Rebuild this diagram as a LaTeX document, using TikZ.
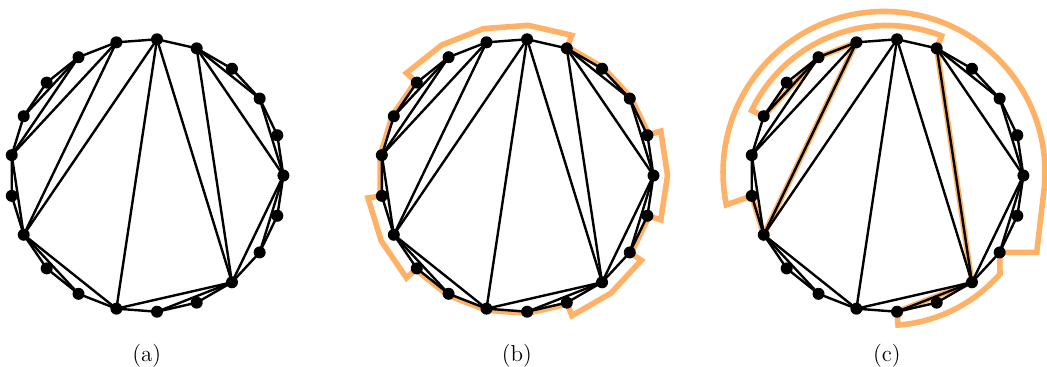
\documentclass[tikz,border=0pt]{standalone}
\pgfdeclarelayer{bg}
\pgfsetlayers{bg,main}
\definecolor{hl}{RGB}{255,178,102}
\tikzset{
  edge/.style={line width=1.2pt, draw=black},
  vdot/.style={circle, fill=black, inner sep=0pt, minimum size=6pt},
  hlpath/.style={line width=2.8pt, draw=hl},
  caption/.style={font=\fontsize{11.5}{13}\selectfont, anchor=base}
}
\newcommand\tripanel[3]{%
  \begin{scope}[shift={(#2,190.5)}]
    \foreach \k in {0,...,20}{%
      \node[vdot] (#1\k) at ({\k*360/21}:136.6) {};
      \coordinate (#1o\k) at ({\k*360/21}:150.6);
      \coordinate (#1i\k) at ({\k*360/21}:138.2);
    }
    \begin{pgfonlayer}{bg}
      #3
    \end{pgfonlayer}
    \draw[edge] (#10.center) \foreach \k in {1,...,20}{ -- (#1\k.center)} -- cycle;
    \foreach \i/\j in {5/12,5/15,5/18,4/18,15/18,12/15,6/12,6/10,10/12,7/10,7/9,12/14,16/18,0/18,0/19,4/0,4/2,2/0}
      \draw[edge] (#1\i.center) -- (#1\j.center);
  \end{scope}}
\begin{document}
\begin{tikzpicture}[x=0.5pt,y=0.5pt]
  \useasboundingbox (0,0) rectangle (1047,366);
  \tripanel{a}{146.8}{}
  \tripanel{b}{516.9}{%
    \draw[hlpath] (bo4) -- (bo5) -- (bo6) -- (bo7) -- (bo8) -- (bi8) -- (bi9) -- (bi10) -- (bi11)
      -- (bo11) -- (bo12) -- (bo13) -- (bi13) -- (bi14) -- (bi15) -- (bi16) -- (bi17)
      -- (bo17) -- (bo18) -- (bo19) -- (bi19) -- (bi20) -- (bo20) -- (bo0) -- (bo1)
      -- (bi1) -- (bi2) -- (bi3) -- (bi4) -- cycle;}
  \tripanel{c}{886.8}{%
    \draw[hlpath] (c11.center) -- (c12.center) -- (c6.center) -- (c7.center) -- (c9.center)
      -- (154.29:150) arc[start angle=154.29, end angle=68.57, radius=75pt]
      -- (c4.center) -- (c18.center) -- (c16.center)
      -- (274.29:150) arc[start angle=274.29, end angle=319, radius=75pt]
      -- (c19.center)
      -- (149.9,-76.9) .. controls (153,-50) and (156,-25) .. (157.6,-11.0)
      arc[start angle=-5, end angle=191.6, radius=80.5pt]
      -- cycle;}
  \node[caption] (la) at (146.8,5) {(a)};
  \node[caption] (lb) at (516.9,5) {(b)};
  \node[caption] (lc) at (886.8,5) {(c)};
\end{tikzpicture}
\end{document}
